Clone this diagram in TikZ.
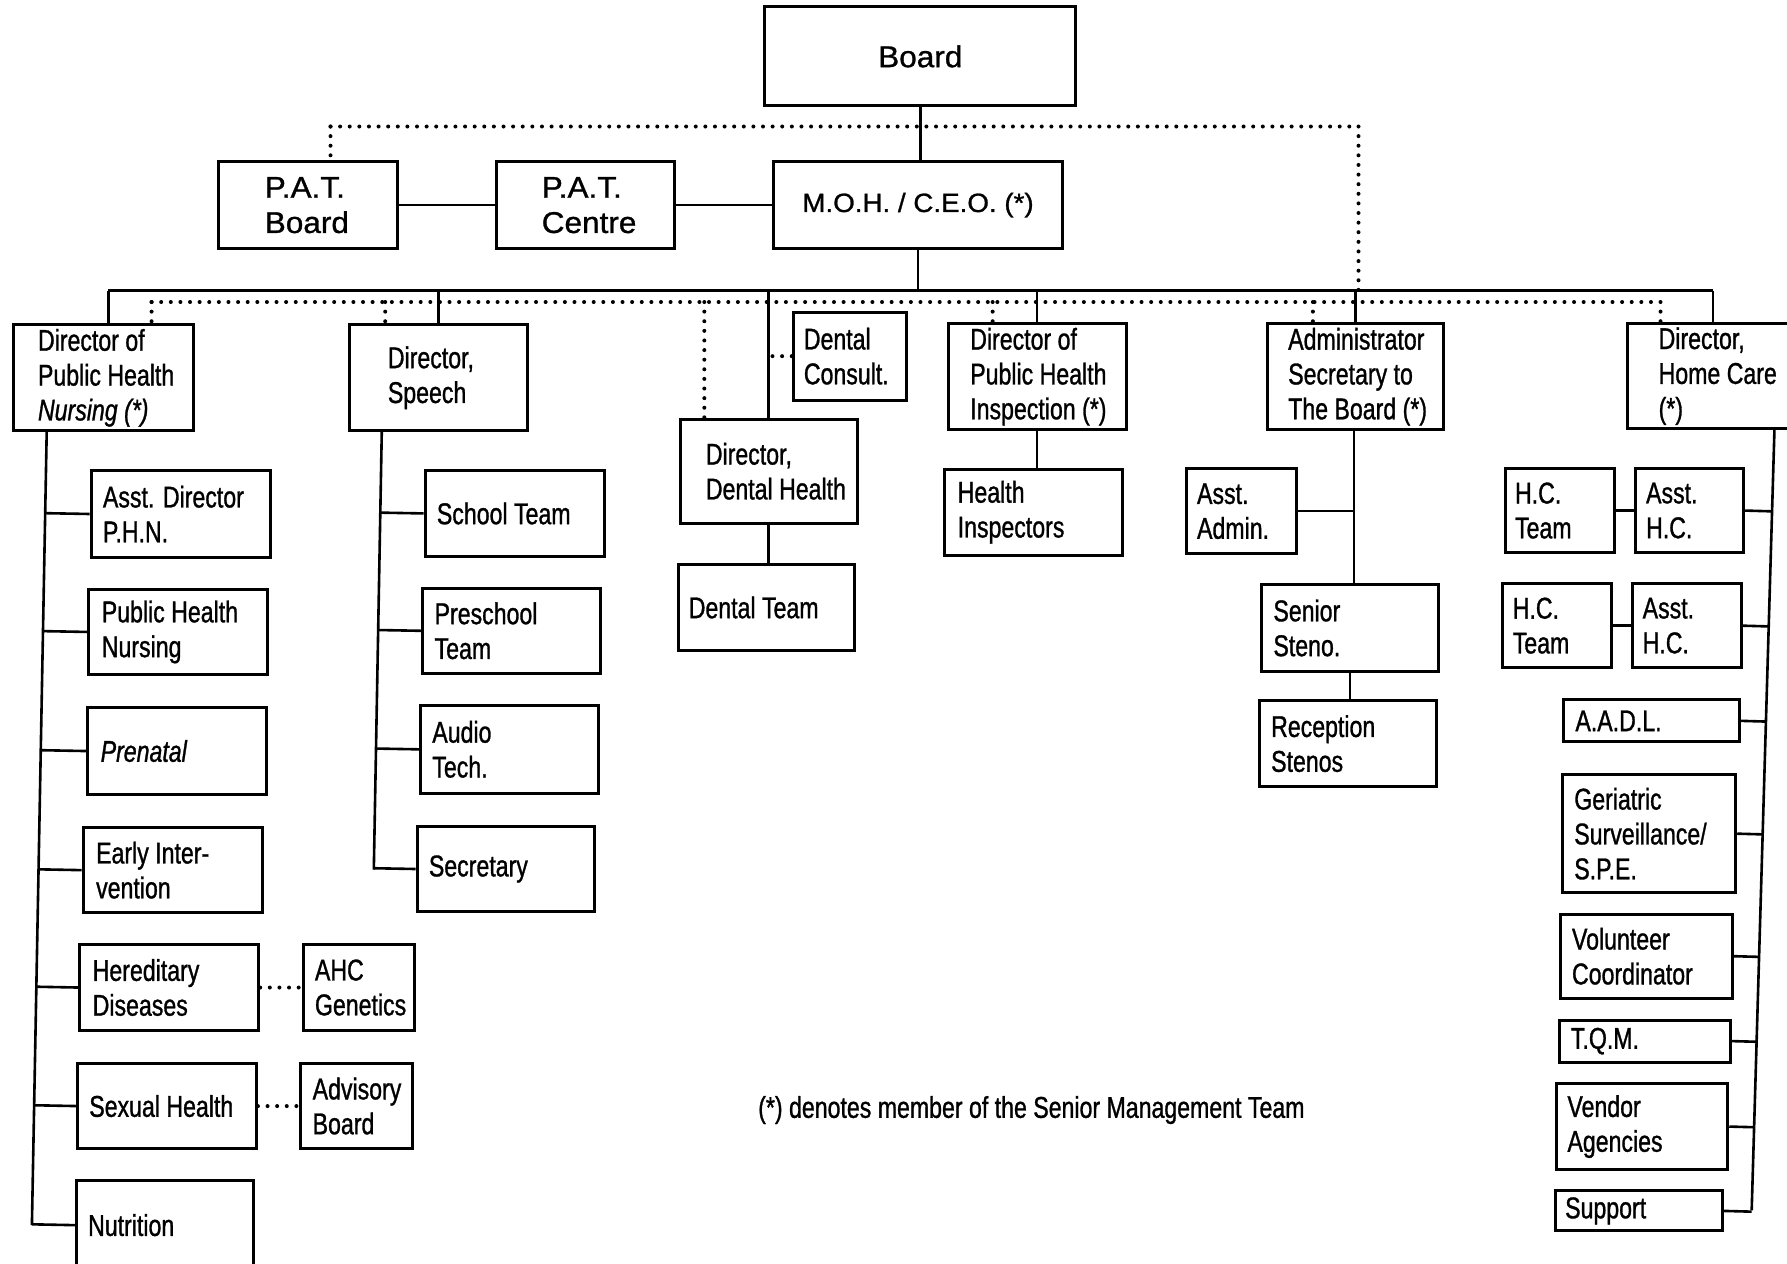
\documentclass[tikz,border=0pt]{standalone}
\usepackage{fontspec}
\setmainfont{Liberation Sans}[FakeStretch=0.77,FakeBold=1]
\newfontfamily\widefont{Liberation Sans}[FakeStretch=1.05,FakeBold=1]
\usetikzlibrary{fit,calc}
% name, x1, y1, x2, y2, text-x, text   (optional: text style)
\newcommand\obox[8][]{%
  \node[boxsty, fit={(#3,#4) (#5,#6)}] (#2) {};
  \node[txtsty,#1, anchor=west] (#2-t) at (#7,{(#4+#6)/2}) {#8};}
% centred text: name, x1, y1, x2, y2, text style, text
\newcommand\cbox[7]{%
  \node[boxsty, fit={(#2,#3) (#4,#5)}] (#1) {};
  \node[txtsty,#6] (#1-t) at ({(#2+#4)/2},{(#3+#5)/2}) {#7};}
\begin{document}
\begin{tikzpicture}[x=0.02cm,y=-0.02cm,
  boxsty/.style={draw, line width=1.5pt, inner sep=0pt},
  txtsty/.style={align=left, inner sep=0pt, font=\fontsize{15}{17.4}\selectfont},
  big/.style={font=\widefont\fontsize{15}{17.6}\selectfont},
  mid/.style={font=\widefont\fontsize{13.2}{16}\selectfont},
  conn/.style={line width=1.3pt},
  dotc/.style={line width=2pt, line cap=round, dash pattern=on 0pt off 4.8pt}]
\useasboundingbox (0,0) rectangle (1568,1109);
\clip (0,0) rectangle (1568,1109);

% ---- top ----
\cbox{board}{671}{6}{944}{93}{big}{Board}
\obox[big]{patb}{192}{142}{349}{218}{232}{P.A.T.\\Board}
\obox[big]{patc}{436}{142}{592}{218}{475}{P.A.T.\\Centre}
\cbox{moh}{679}{142}{932}{218}{mid}{M.O.H. / C.E.O. (*)}

% ---- directors ----
\obox{dphn}{12}{285}{170}{378}{33}{Director of\\Public Health\\\textit{Nursing (*)}}
\obox{dsp}{307}{285}{463}{378}{340}{Director,\\Speech}
\obox{dcons}{696}{274}{795}{351}{705}{Dental\\Consult.}
\obox{ddh}{597}{368}{752}{459}{619}{Director,\\Dental Health}
\obox{dphi}{832}{284}{988}{377}{851}{Director of\\Public Health\\Inspection (*)}
\obox{adm}{1112}{284}{1267}{377}{1130}{Administrator\\Secretary to\\The Board (*)}
\obox{dhc}{1428}{284}{1600}{376}{1455}{Director,\\Home Care\\(*)}

% ---- public health nursing ----
\obox{aphn}{80}{413}{237}{489}{90}{Asst. Director\\P.H.N.}
\obox{phn}{78}{517}{235}{592}{89}{Public Health\\Nursing}
\obox{pren}{77}{621}{234}{697}{88}{\textit{Prenatal}}
\obox{eint}{73}{726}{230}{801}{84}{Early Inter-\\vention}
\obox{hd}{70}{829}{227}{904}{81}{Hereditary\\Diseases}
\obox{ahc}{266}{829}{364}{904}{276}{AHC\\Genetics}
\obox{sh}{68}{933}{225}{1008}{78}{Sexual Health}
\obox{adv}{264}{933}{362}{1008}{274}{Advisory\\Board}
\obox{nut}{67}{1036}{222}{1114}{77}{Nutrition}

% ---- speech ----
\obox{st}{373}{413}{530}{488}{383}{School Team}
\obox{pst}{371}{516}{527}{591}{381}{Preschool\\Team}
\obox{aud}{369}{619}{525}{696}{379}{Audio\\Tech.}
\obox{sec}{366}{725}{522}{800}{376}{Secretary}

% ---- dental / inspection ----
\obox{dtm}{595}{495}{750}{571}{604}{Dental Team}
\obox{hi}{829}{412}{985}{487}{840}{Health\\Inspectors}

% ---- administration ----
\obox{aad}{1041}{411}{1138}{486}{1050}{Asst.\\Admin.}
\obox{ss}{1107}{513}{1262}{589}{1117}{Senior\\Steno.}
\obox{rs}{1105}{615}{1260}{690}{1115}{Reception\\Stenos}

% ---- home care ----
\obox{hct1}{1321}{411}{1417}{485}{1329}{H.C.\\Team}
\obox{ahc1}{1435}{411}{1530}{485}{1444}{Asst.\\H.C.}
\obox{hct2}{1318}{512}{1414}{586}{1327}{H.C.\\Team}
\obox{ahc2}{1432}{512}{1528}{586}{1441}{Asst.\\H.C.}
\obox{aadl}{1372}{614}{1526}{651}{1382}{A.A.D.L.}
\obox{ger}{1371}{680}{1523}{783}{1381}{Geriatric\\Surveillance/\\S.P.E.}
\obox{vol}{1369}{802}{1520}{876}{1379}{Volunteer\\Coordinator}
\obox{tqm}{1368}{895}{1518}{932}{1378}{T.Q.M.}
\obox{ven}{1366}{951}{1516}{1026}{1375}{Vendor\\Agencies}
\obox{sup}{1365}{1045}{1511}{1080}{1373}{Support}

\node[txtsty] (note) at (905,974) {(*) denotes member of the Senior Management Team};

% ---- connectors: top ----
\draw[conn] (board.south) -- (board.south |- moh.north);
\draw[conn] (patb.east) -- (patc.west);
\draw[conn] (patc.east) -- (moh.west);
\coordinate (td1) at (290,111);
\coordinate (td2) at (1192,111);
\coordinate (busL) at (95,255);
\coordinate (busR) at (1503,255);
\draw[dotc] (td1) -- (td2);
\draw[dotc] (td1) -- (td1 |- patb.north);
\draw[dotc] (td2) -- (td2 |- busL);
\draw[conn] (moh.south) -- (moh.south |- busL);
\draw[conn] (busL) -- (busR);
\draw[conn] (busL) -- (busL |- dphn.north);
\draw[conn] (dsp.north |- busL) -- (dsp.north);
\draw[conn] (ddh.north |- busL) -- (ddh.north);
\draw[conn] (dphi.north |- busL) -- (dphi.north);
\draw[conn] (adm.north |- busL) -- (adm.north);
\draw[conn] (busR) -- (busR |- dhc.north);

% ---- second dotted line ----
\coordinate (dd1) at (133,265);
\coordinate (dd2) at (1457,265);
\coordinate (dsx) at (338,265);
\coordinate (ddx) at (618,265);
\coordinate (dpx) at (871,265);
\coordinate (dax) at (1152,265);
\draw[dotc] (dd1) -- (dd2);
\draw[dotc] (dd1) -- (dd1 |- dphn.north);
\draw[dotc] (dsx) -- (dsx |- dsp.north);
\draw[dotc] (ddx) -- (ddx |- ddh.north);
\draw[dotc] (dpx) -- (dpx |- dphi.north);
\draw[dotc] (dax) -- (dax |- adm.north);
\draw[dotc] (dd2) -- (dd2 |- dhc.north);
\draw[dotc] (dcons.west) -- (dcons.west -| ddh.north);

% ---- public health nursing branch ----
\coordinate (pv1) at (41,378);
\coordinate (pv2) at (28,1075);
\draw[conn] (pv1) -- (pv2);
\foreach \n in {aphn,phn,pren,eint,hd,sh,nut}
  \draw[conn] (\n.west) -- ($(pv1)!(\n.west)!(pv2)$);
\draw[dotc] (hd.east) -- (ahc.west);
\draw[dotc] (sh.east) -- (adv.west);

% ---- speech branch ----
\coordinate (sv1) at (335,378);
\coordinate (sv2) at (328,763);
\draw[conn] (sv1) -- (sv2);
\foreach \n in {st,pst,aud,sec}
  \draw[conn] (\n.west) -- ($(sv1)!(\n.west)!(sv2)$);

% ---- dental / inspection ----
\draw[conn] (ddh.south) -- (ddh.south |- dtm.north);
\draw[conn] (dphi.south) -- (dphi.south |- hi.north);

% ---- administration ----
\coordinate (av1) at (1188,377);
\draw[conn] (av1) -- (av1 |- ss.north);
\draw[conn] (aad.east) -- (aad.east -| av1);
\draw[conn] (ss.south) -- (ss.south |- rs.north);

% ---- home care ----
\coordinate (hv1) at (1557,376);
\coordinate (hv2) at (1537,1062);
\draw[conn] (hv1) -- (hv2);
\draw[conn] (hct1.east) -- (ahc1.west);
\draw[conn] (hct2.east) -- (ahc2.west);
\foreach \n in {ahc1,ahc2,aadl,ger,vol,tqm,ven,sup}
  \draw[conn] (\n.east) -- ($(hv1)!(\n.east)!(hv2)$);
\end{tikzpicture}
\end{document}
